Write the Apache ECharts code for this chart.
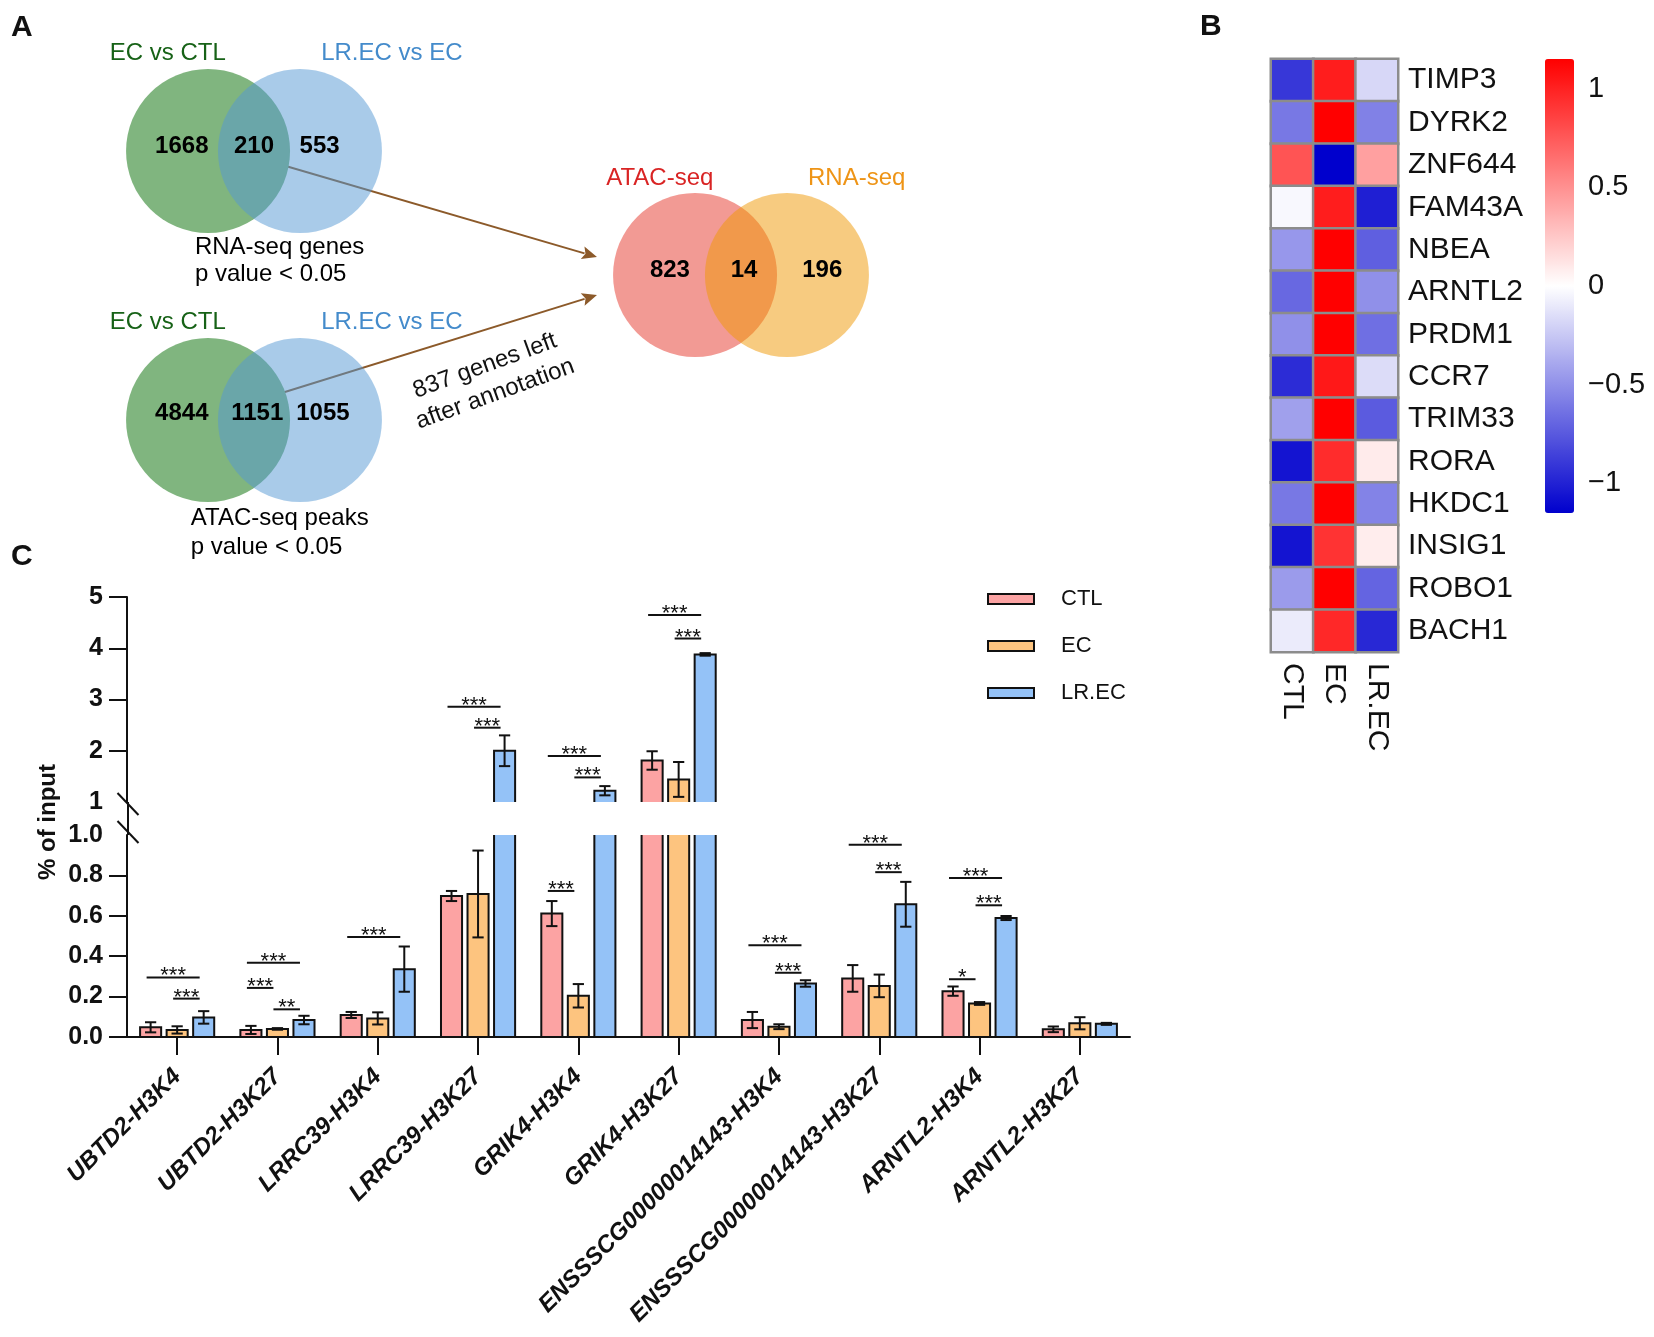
<!DOCTYPE html>
<html><head><meta charset="utf-8">
<script src="https://cdn.jsdelivr.net/npm/echarts@6/dist/echarts.min.js"></script>
<style>html,body{margin:0;padding:0;background:#fff}#c{width:1654px;height:1337px}</style>
</head><body><div id="c"></div>
<script>
const FONT = '"Liberation Sans", Arial, Helvetica, sans-serif';

// ---------- Panel A: Venn diagrams ----------
const rnaVennSets = ['EC vs CTL', 'LR.EC vs EC'];
const rnaVennCounts = [1668, 210, 553];
const rnaVennCaption = ['RNA-seq genes', 'p value < 0.05'];
const atacVennSets = ['EC vs CTL', 'LR.EC vs EC'];
const atacVennCounts = [4844, 1151, 1055];
const atacVennCaption = ['ATAC-seq peaks', 'p value < 0.05'];
const overlapVennSets = ['ATAC-seq', 'RNA-seq'];
const overlapVennCounts = [823, 14, 196];
const annotationNote = '837 genes left\nafter annotation';

// ---------- Panel B: heatmap ----------
const heatGenes = ['TIMP3','DYRK2','ZNF644','FAM43A','NBEA','ARNTL2','PRDM1','CCR7','TRIM33','RORA','HKDC1','INSIG1','ROBO1','BACH1'];
const heatGroups = ['CTL','EC','LR.EC'];
const heatCTL = [-0.90,-0.61, 0.77,-0.03,-0.47,-0.68,-0.50,-0.95,-0.43,-1.06,-0.61,-1.06,-0.45,-0.09];
const heatEC  = [ 1.02, 1.15,-1.15, 1.02, 1.15, 1.15, 1.15, 1.04, 1.15, 0.95, 1.15, 0.92, 1.15, 0.97];
const heatLR  = [-0.18,-0.57, 0.43,-1.01,-0.72,-0.50,-0.65,-0.16,-0.74, 0.09,-0.56, 0.08,-0.70,-0.97];
const colorTicks = [-1, -0.5, 0, 0.5, 1];

// ---------- Panel C: ChIP-qPCR bars ----------
const categories = ['UBTD2-H3K4','UBTD2-H3K27','LRRC39-H3K4','LRRC39-H3K27','GRIK4-H3K4','GRIK4-H3K27','ENSSSCG00000014143-H3K4','ENSSSCG00000014143-H3K27','ARNTL2-H3K4','ARNTL2-H3K27'];
const groupNames = ['CTL','EC','LR.EC'];
const ctlMean = [0.048, 0.035, 0.109, 0.698, 0.611, 1.81, 0.084, 0.290, 0.227, 0.038];
const ctlErr  = [0.025, 0.020, 0.015, 0.025, 0.062, 0.18, 0.040, 0.066, 0.023, 0.014];
const ecMean  = [0.035, 0.040, 0.092, 0.708, 0.204, 1.44, 0.051, 0.253, 0.166, 0.068];
const ecErr   = [0.018, 0.004, 0.030, 0.215, 0.058, 0.34, 0.012, 0.056, 0.007, 0.030];
const lrMean  = [0.097, 0.084, 0.336, 2.00, 1.22, 3.88, 0.265, 0.657, 0.589, 0.065];
const lrErr   = [0.031, 0.021, 0.112, 0.30, 0.09, 0.025, 0.016, 0.111, 0.010, 0.005];
const upperTicks = [1, 2, 3, 4, 5];
const lowerTicks = [0, 0.2, 0.4, 0.6, 0.8, 1.0];
// significance brackets: category, from group, to group, level, label
const sigCat   = [0, 0, 1, 1, 1, 2, 3, 3, 4, 4, 4, 5, 5, 6, 6, 7, 7, 8, 8, 8];
const sigFrom  = [0, 1, 0, 0, 1, 0, 0, 1, 0, 1, 0, 0, 1, 0, 1, 0, 1, 0, 1, 0];
const sigTo    = [2, 2, 2, 1, 2, 2, 2, 2, 2, 2, 1, 2, 2, 2, 2, 2, 2, 2, 2, 1];
const sigLevel = [0.295, 0.19, 0.367, 0.243, 0.137, 0.495, 2.86, 2.45, 1.90, 1.48, 0.723, 4.65, 4.19, 0.454, 0.318, 0.952, 0.816, 0.787, 0.652, 0.286];
const sigLabel = ['***','***','***','***','**','***','***','***','***','***','***','***','***','***','***','***','***','***','***','*'];

// ---------- styles ----------
const barColors = ['#fca3a3', '#fdc47f', '#94c2f7'];
const means = [ctlMean, ecMean, lrMean];
const errs = [ctlErr, ecErr, lrErr];
const barOffset = [-0.2645, 0, 0.2645];
const barHalf = 0.105, capHalf = 0.056;
const BAR_LEFT = 127, BAR_W = 1003;

const chart = echarts.init(document.getElementById('c'), null, {renderer: 'canvas', width: 1654, height: 1337});

function barSeries(s, upper) {
  const yMin = upper ? upperTicks[0] : lowerTicks[0];
  const yMax = upper ? upperTicks[upperTicks.length - 1] : lowerTicks[lowerTicks.length - 1];
  return {
    type: 'custom', name: groupNames[s],
    xAxisIndex: upper ? 0 : 1, yAxisIndex: upper ? 0 : 1,
    itemStyle: {color: barColors[s]}, silent: true, z: 3,
    data: categories.map((c, i) => [i, means[s][i], errs[s][i]]),
    renderItem: function (params, api) {
      const i = api.value(0), v = api.value(1), e = api.value(2);
      if (upper && v <= yMin) return null;
      const band = api.size([1, 0])[0];
      const cx = api.coord([i, 0])[0] + barOffset[s] * band;
      const hw = barHalf * band;
      const yb = api.coord([i, yMin])[1];
      const yt = api.coord([i, Math.min(v, yMax)])[1];
      const ch = [{type: 'rect', shape: {x: cx - hw, y: yt, width: 2 * hw, height: yb - yt}, style: {fill: barColors[s], stroke: null}}];
      let pts;
      if (upper) pts = [[cx - hw, yb], [cx - hw, yt], [cx + hw, yt], [cx + hw, yb]];
      else if (v > yMax) pts = [[cx - hw, yt], [cx - hw, yb], [cx + hw, yb], [cx + hw, yt]];
      else pts = [[cx - hw, yb], [cx - hw, yt], [cx + hw, yt], [cx + hw, yb], [cx - hw, yb]];
      ch.push({type: 'polyline', shape: {points: pts}, style: {stroke: '#111', lineWidth: 2, fill: null}});
      if (v <= yMax) {
        const y1 = api.coord([i, v + e])[1], y2 = api.coord([i, v - e])[1];
        const c = capHalf * band;
        const st = {stroke: '#111', lineWidth: 2};
        ch.push({type: 'line', shape: {x1: cx, y1: y1, x2: cx, y2: y2}, style: st});
        ch.push({type: 'line', shape: {x1: cx - c, y1: y1, x2: cx + c, y2: y1}, style: st});
        ch.push({type: 'line', shape: {x1: cx - c, y1: y2, x2: cx + c, y2: y2}, style: st});
      }
      return {type: 'group', children: ch};
    }
  };
}

function sigSeries(upper) {
  const idx = sigLevel.map((l, k) => k).filter(k => (sigLevel[k] > 1) === upper);
  return {
    type: 'custom', xAxisIndex: upper ? 0 : 1, yAxisIndex: upper ? 0 : 1, silent: true, z: 4,
    data: idx.map(k => [sigCat[k], sigFrom[k], sigTo[k], sigLevel[k], k]),
    renderItem: function (params, api) {
      const c = api.value(0), a = api.value(1), b = api.value(2), lvl = api.value(3), k = api.value(4);
      const band = api.size([1, 0])[0];
      const p = api.coord([c, lvl]);
      const x1 = p[0] + (barOffset[a] - 0.04) * band;
      const x2 = p[0] + (barOffset[b] - 0.04) * band;
      return {type: 'group', children: [
        {type: 'line', shape: {x1: x1, y1: p[1], x2: x2, y2: p[1]}, style: {stroke: '#111', lineWidth: 2}},
        {type: 'text', x: (x1 + x2) / 2, y: p[1] - 1, style: {text: sigLabel[k], fontSize: 22, fontFamily: FONT, fill: '#111', align: 'center', verticalAlign: 'middle'}}
      ]};
    }
  };
}

function vennCircles(g, colA, colB, opB) {
  return {type: 'scatter', xAxisIndex: g, yAxisIndex: g, symbol: 'circle', symbolSize: 164, clip: false, silent: true, z: 2,
    data: [{value: [-0.56, 0], itemStyle: {color: colA, opacity: 1}}, {value: [0.56, 0], itemStyle: {color: colB, opacity: opB}}]};
}
function vennText(g, items) {
  return {type: 'custom', xAxisIndex: g, yAxisIndex: g, silent: true, z: 5, clip: false,
    data: items.map(it => it.value),
    renderItem: function (params, api) {
      const it = items[params.dataIndex];
      const p = api.coord([api.value(0), api.value(1)]);
      return {type: 'text', x: p[0], y: p[1], style: {text: it.name, fontSize: 24, fontFamily: FONT,
        fontWeight: it.bold ? 'bold' : 'normal', fill: it.color || '#000', align: it.align || 'center', verticalAlign: 'middle'}};
    }};
}
const GREEN_T = '#176217', BLUE_T = '#448bcb';

const series = [];
for (let s = 0; s < 3; s++) { series.push(barSeries(s, true)); series.push(barSeries(s, false)); }
series.push(sigSeries(true)); series.push(sigSeries(false));
const heatIndex = series.length;
const heatData = [];
heatGenes.forEach((g, r) => { [heatCTL, heatEC, heatLR].forEach((arr, c) => heatData.push([c, r, arr[r]])); });
series.push({type: 'heatmap', xAxisIndex: 2, yAxisIndex: 2, data: heatData, silent: true,
  itemStyle: {borderColor: '#8c8c8c', borderWidth: 2.5}});

// Venn RNA
series.push(vennCircles(4, '#80b57f', 'rgb(83,151,211)', 0.5));
series.push(vennText(4, [
  {name: String(rnaVennCounts[0]), value: [-0.88, 0.06], bold: true},
  {name: String(rnaVennCounts[1]), value: [0, 0.06], bold: true},
  {name: String(rnaVennCounts[2]), value: [0.80, 0.06], bold: true},
  {name: rnaVennSets[0], value: [-1.05, 1.195], color: GREEN_T},
  {name: rnaVennSets[1], value: [1.68, 1.195], color: BLUE_T},
  {name: rnaVennCaption[0], value: [-0.72, -1.17], align: 'left'},
  {name: rnaVennCaption[1], value: [-0.72, -1.51], align: 'left'}
]));
// Venn ATAC
series.push(vennCircles(5, '#80b57f', 'rgb(83,151,211)', 0.5));
series.push(vennText(5, [
  {name: String(atacVennCounts[0]), value: [-0.88, 0.085], bold: true},
  {name: String(atacVennCounts[1]), value: [0.04, 0.085], bold: true},
  {name: String(atacVennCounts[2]), value: [0.84, 0.085], bold: true},
  {name: atacVennSets[0], value: [-1.05, 1.195], color: GREEN_T},
  {name: atacVennSets[1], value: [1.68, 1.195], color: BLUE_T},
  {name: atacVennCaption[0], value: [-0.77, -1.195], align: 'left'},
  {name: atacVennCaption[1], value: [-0.77, -1.55], align: 'left'}
]));
// Venn overlap
series.push(vennCircles(6, '#f29a94', 'rgb(239,151,1)', 0.5));
series.push(vennText(6, [
  {name: String(overlapVennCounts[0]), value: [-0.866, 0.06], bold: true},
  {name: String(overlapVennCounts[1]), value: [0.037, 0.06], bold: true},
  {name: String(overlapVennCounts[2]), value: [0.99, 0.06], bold: true},
  {name: overlapVennSets[0], value: [-0.99, 1.18], color: '#d92424'},
  {name: overlapVennSets[1], value: [1.41, 1.18], color: '#ee9416'}
]));

const axisBlack = {lineStyle: {color: '#111', width: 2}};
const hiddenVal = (g, mn, mx) => ({gridIndex: g, type: 'value', min: mn, max: mx, show: false});
const gridBase = {containLabel: false, outerBoundsMode: 'none'};

const option = {
  animation: false,
  backgroundColor: '#ffffff',
  textStyle: {fontFamily: FONT},
  grid: [
    Object.assign({left: BAR_LEFT, top: 597, width: BAR_W, height: 205}, gridBase),
    Object.assign({left: BAR_LEFT, top: 835, width: BAR_W, height: 202}, gridBase),
    Object.assign({left: 1271, top: 59, width: 127, height: 593}, gridBase),
    Object.assign({left: 1545, top: 59, width: 29, height: 454}, gridBase),
    Object.assign({left: 126, top: 69, width: 256, height: 164}, gridBase),
    Object.assign({left: 126, top: 338, width: 256, height: 164}, gridBase),
    Object.assign({left: 613, top: 193, width: 256, height: 164}, gridBase)
  ],
  xAxis: [
    {gridIndex: 0, type: 'category', data: categories, show: false},
    {gridIndex: 1, type: 'category', data: categories,
      axisLine: axisBlack, axisTick: {show: true, alignWithLabel: true, length: 18, lineStyle: {color: '#111', width: 2}},
      axisLabel: {interval: 0, rotate: 45, margin: 36, fontSize: 24, fontWeight: 'bold', fontStyle: 'italic', color: '#111', fontFamily: FONT}},
    {gridIndex: 2, type: 'category', data: heatGroups, position: 'bottom',
      axisLine: {show: false}, axisTick: {show: false},
      axisLabel: {interval: 0, rotate: -90, margin: 11, fontSize: 30, color: '#111', fontFamily: FONT}},
    {gridIndex: 3, type: 'value', show: false},
    hiddenVal(4, -1.56, 1.56), hiddenVal(5, -1.56, 1.56), hiddenVal(6, -1.56, 1.56)
  ],
  yAxis: [
    {gridIndex: 0, type: 'value', min: upperTicks[0], max: upperTicks[upperTicks.length - 1], interval: 1,
      axisLine: Object.assign({show: true}, axisBlack), splitLine: {show: false},
      axisTick: {show: true, length: 18, customValues: upperTicks.slice(1), lineStyle: {color: '#111', width: 2}},
      axisLabel: {margin: 24, fontSize: 25, fontWeight: 'bold', color: '#111', fontFamily: FONT}},
    {gridIndex: 1, type: 'value', min: 0, max: 1, interval: 0.2,
      axisLine: Object.assign({show: true}, axisBlack), splitLine: {show: false},
      axisTick: {show: true, length: 18, customValues: lowerTicks.slice(0, -1), lineStyle: {color: '#111', width: 2}},
      axisLabel: {margin: 24, fontSize: 25, fontWeight: 'bold', color: '#111', fontFamily: FONT, formatter: v => v.toFixed(1)}},
    {gridIndex: 2, type: 'category', data: heatGenes, inverse: true, position: 'right',
      axisLine: {show: false}, axisTick: {show: false},
      axisLabel: {interval: 0, margin: 10, fontSize: 30, color: '#111', fontFamily: FONT}},
    {gridIndex: 3, type: 'value', min: -1.15, max: 1.15, position: 'right',
      axisLine: {show: false}, axisTick: {show: false}, splitLine: {show: false},
      axisLabel: {customValues: colorTicks, margin: 14, fontSize: 29, color: '#111', fontFamily: FONT,
        formatter: v => (v < 0 ? '\u2212' : '') + Math.abs(v)}},
    hiddenVal(4, -1, 1), hiddenVal(5, -1, 1), hiddenVal(6, -1, 1)
  ],
  visualMap: [{type: 'continuous', seriesIndex: heatIndex, min: -1.15, max: 1.15, calculable: false, hoverLink: false,
    orient: 'vertical', left: 1545, top: 59, itemWidth: 29, itemHeight: 454, padding: 0, showLabel: false,
    inRange: {color: ['#0000cd', '#ffffff', '#ff0000']}}],
  legend: {data: groupNames, orient: 'vertical', left: 987, top: 588, padding: 0, itemWidth: 46, itemHeight: 10, itemGap: 25,
    icon: 'rect', selectedMode: false, itemStyle: {borderColor: '#111', borderWidth: 2},
    textStyle: {fontSize: 22, color: '#111', fontFamily: FONT, padding: [0, 0, 0, 22]}},
  series: series
};
chart.setOption(option);

// ---------- annotations (axis break, labels, arrows) ----------
const yU = chart.convertToPixel({yAxisIndex: 0}, upperTicks[0]);
const yL = chart.convertToPixel({yAxisIndex: 1}, lowerTicks[lowerTicks.length - 1]);
const ax = BAR_LEFT + 1;
const brown = '#8c5a2a';
function arrow(x1, y1, x2, y2) {
  const dx = x2 - x1, dy = y2 - y1, L = Math.hypot(dx, dy), ux = dx / L, uy = dy / L;
  const bx = x2 - 15 * ux, by = y2 - 15 * uy, nx = -uy, ny = ux;
  return [
    {type: 'line', shape: {x1: x1, y1: y1, x2: bx + 2 * ux, y2: by + 2 * uy}, style: {stroke: brown, lineWidth: 2}},
    {type: 'polygon', shape: {points: [[x2, y2], [bx + 6.5 * nx, by + 6.5 * ny], [bx + 3 * ux, by + 3 * uy], [bx - 6.5 * nx, by - 6.5 * ny]]}, style: {fill: brown}}
  ];
}
const txt = (x, y, text, size, extra) => ({type: 'text', x: x, y: y, style: Object.assign({text: text, fontSize: size, fontFamily: FONT, fill: '#111', align: 'left', verticalAlign: 'middle'}, extra || {})});
const graphics = [
  txt(11, 28, 'A', 30, {fontWeight: 'bold'}),
  txt(1200, 27, 'B', 30, {fontWeight: 'bold'}),
  txt(11, 557, 'C', 30, {fontWeight: 'bold'}),
  {type: 'line', shape: {x1: ax, y1: yU, x2: ax, y2: yL}, style: {stroke: '#111', lineWidth: 2}},
  {type: 'line', shape: {x1: ax - 10.5, y1: yU - 9, x2: ax + 10.5, y2: yU + 13}, style: {stroke: '#111', lineWidth: 2}},
  {type: 'line', shape: {x1: ax - 10.5, y1: yL - 14, x2: ax + 10.5, y2: yL + 8}, style: {stroke: '#111', lineWidth: 2}},
  {type: 'text', x: 48, y: 822, rotation: Math.PI / 2, style: {text: '% of input', fontSize: 24, fontWeight: 'bold', fontFamily: FONT, fill: '#111', align: 'center', verticalAlign: 'middle'}},
  {type: 'text', x: 490, y: 380, rotation: 20 * Math.PI / 180, style: {text: annotationNote, fontSize: 24, lineHeight: 30, fontFamily: FONT, fill: '#111', align: 'center', verticalAlign: 'middle'}}
].concat(arrow(272, 162, 597, 257), arrow(272, 396, 597, 295));
chart.setOption({graphic: graphics});
</script></body></html>
